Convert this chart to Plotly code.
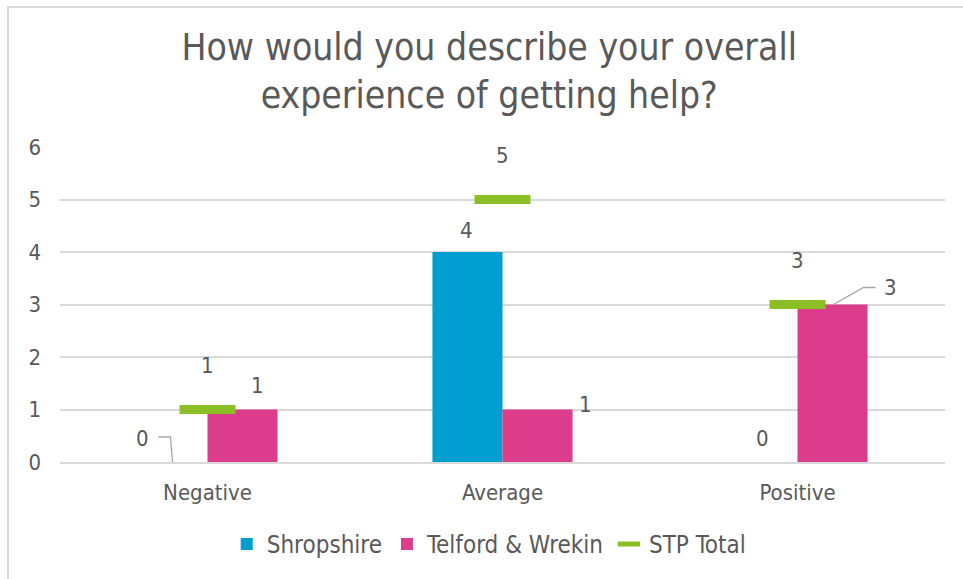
import plotly.graph_objects as go

categories = ["Negative", "Average", "Positive"]
shropshire = [0, 4, 0]
telford = [1, 1, 3]
stp_total = [1, 5, 3]

BLUE = "#009FD0"
PINK = "#DB3C8C"
GREEN = "#8CBF26"
TEXT = "#595959"
GRID = "#D9D9D9"
FONT = "DejaVu Sans Condensed"

W, H = 963, 579
ML, MR, MT, MB = 60, 18, 147, 117

fig = go.Figure()
fig.add_trace(go.Bar(name="Shropshire", x=categories, y=shropshire,
                     marker=dict(color=BLUE, line=dict(width=0))))
fig.add_trace(go.Bar(name="Telford & Wrekin", x=categories, y=telford,
                     marker=dict(color=PINK, line=dict(width=0))))
fig.add_trace(go.Scatter(name="STP Total", x=categories, y=stp_total, mode="markers",
                         marker=dict(symbol="line-ew", size=40, color=GREEN,
                                     line=dict(color=GREEN, width=9))))

ann = []
lbl = dict(showarrow=False, font=dict(family=FONT, size=22, color=TEXT))
# STP Total labels above the markers
for c, v in zip(categories, stp_total):
    ann.append(dict(x=c, y=v, text=str(v), yshift=44, **lbl))
# Shropshire labels
for i, (c, v) in enumerate(zip(categories, shropshire)):
    if i == 0:
        ann.append(dict(x=c, y=v, text=str(v), xshift=-65, yshift=24, **lbl))
    elif i == 1:
        ann.append(dict(x=c, y=v, text=str(v), xshift=-36, yshift=22, **lbl))
    else:
        ann.append(dict(x=c, y=v, text=str(v), xshift=-35, yshift=24, **lbl))
# Telford & Wrekin labels
for i, (c, v) in enumerate(zip(categories, telford)):
    if i == 0:
        ann.append(dict(x=c, y=v, text=str(v), xshift=50, yshift=24, **lbl))
    elif i == 1:
        ann.append(dict(x=c, y=v, text=str(v), xshift=83, yshift=5, **lbl))
    else:
        ann.append(dict(x=c, y=v, text=str(v), xshift=93, yshift=17, **lbl))

shapes = [
    # outer frame (left and top edges visible)
    dict(type="rect", xref="paper", yref="paper",
         x0=(8 - ML) / (W - ML - MR), x1=(990 - ML) / (W - ML - MR),
         y0=-(600 - (H - MB)) / (H - MT - MB), y1=((H - MB) - 7) / (H - MT - MB),
         line=dict(color="#D9D9D9", width=2), fillcolor="rgba(0,0,0,0)", layer="below"),
    # leader line for the Shropshire "0" in Negative
    dict(type="path", xref="x", yref="y", xsizemode="pixel", ysizemode="pixel",
         xanchor=0, yanchor=shropshire[0],
         path="M -35,0 L -37,25 L -49,25", line=dict(color="#A6A6A6", width=1.3)),
    # leader line for the Telford & Wrekin "3" in Positive
    dict(type="path", xref="x", yref="y", xsizemode="pixel", ysizemode="pixel",
         xanchor=2, yanchor=telford[2],
         path="M 36,0 L 66,17 L 78,17", line=dict(color="#A6A6A6", width=1.3)),
]

fig.update_layout(
    width=W, height=H,
    margin=dict(l=ML, r=MR, t=MT, b=MB, autoexpand=False),
    paper_bgcolor="white", plot_bgcolor="white",
    barmode="group", bargap=0.525, bargroupgap=0,
    font=dict(family=FONT, color=TEXT, size=22),
    title=dict(text="How would you describe your overall<br>experience of getting help?",
               x=0.508, xanchor="center", y=1 - 60 / H, yanchor="middle",
               font=dict(family=FONT, size=37, color=TEXT)),
    xaxis=dict(showgrid=False, showline=True, linecolor=GRID, linewidth=2,
               ticks="", ticklabelstandoff=10, tickfont=dict(size=22, color=TEXT),
               automargin=False),
    yaxis=dict(range=[0, 6], dtick=1, showgrid=True, gridcolor=GRID, gridwidth=2,
               zeroline=False, showline=False, ticks="", ticklabelstandoff=18,
               tickfont=dict(size=22, color=TEXT), automargin=False),
    legend=dict(orientation="h", x=0.485, xanchor="center", y=-0.19, yanchor="top",
                font=dict(size=24, color=TEXT), itemwidth=30, traceorder="normal"),
    annotations=ann,
    shapes=shapes,
)

fig.write_html("out.html")
